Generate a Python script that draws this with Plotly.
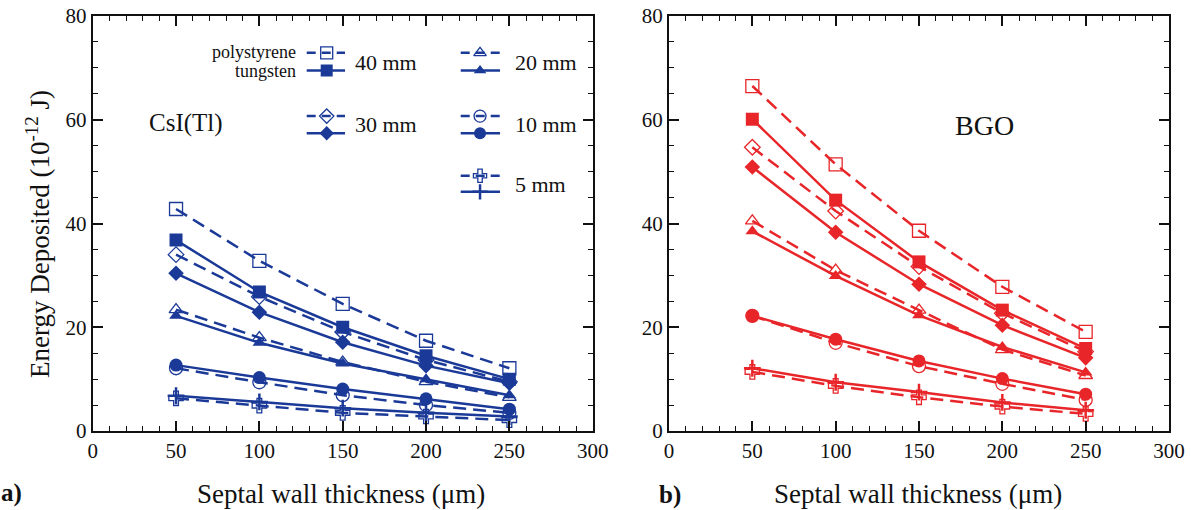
import plotly.graph_objects as go

W, H = 1191, 510

thickness = [50, 100, 150, 200, 250]
sizes = ["40 mm", "30 mm", "20 mm", "10 mm", "5 mm"]

# CsI(Tl) panel
csi_poly = {
    "40 mm": [42.8, 32.8, 24.5, 17.4, 12.1],
    "30 mm": [34.0, 25.9, 19.1, 13.7, 9.5],
    "20 mm": [23.4, 18.0, 13.3, 9.5, 6.5],
    "10 mm": [12.1, 9.4, 6.9, 5.0, 3.5],
    "5 mm": [6.3, 4.9, 3.5, 2.8, 2.1],
}
csi_tung = {
    "40 mm": [36.8, 26.8, 20.0, 14.5, 10.0],
    "30 mm": [30.4, 22.9, 17.1, 12.6, 9.2],
    "20 mm": [22.2, 17.0, 13.0, 10.0, 6.9],
    "10 mm": [12.7, 10.3, 8.1, 6.2, 4.2],
    "5 mm": [6.8, 5.6, 4.4, 3.5, 2.8],
}
# BGO panel
bgo_poly = {
    "40 mm": [66.5, 51.4, 38.6, 27.8, 19.1],
    "30 mm": [54.7, 42.4, 31.7, 22.7, 15.3],
    "20 mm": [40.5, 31.0, 23.3, 15.7, 10.7],
    "10 mm": [22.2, 17.0, 12.5, 9.1, 6.0],
    "5 mm": [11.4, 8.7, 6.5, 4.7, 3.3],
}
bgo_tung = {
    "40 mm": [60.1, 44.5, 32.6, 23.3, 15.9],
    "30 mm": [50.9, 38.3, 28.3, 20.4, 14.1],
    "20 mm": [38.5, 29.9, 22.3, 16.2, 11.3],
    "10 mm": [22.2, 17.7, 13.5, 10.1, 7.1],
    "5 mm": [12.1, 9.4, 7.5, 5.5, 4.0],
}

sym_poly = {"40 mm": "square-open", "30 mm": "diamond-open", "20 mm": "triangle-up-open",
            "10 mm": "circle-open", "5 mm": "cross-open"}
sym_tung = {"40 mm": "square", "30 mm": "diamond", "20 mm": "triangle-up",
            "10 mm": "circle", "5 mm": "cross-thin"}
size_poly = {"40 mm": 13, "30 mm": 12, "20 mm": 12, "10 mm": 13, "5 mm": 12}
size_tung = {"40 mm": 13, "30 mm": 12, "20 mm": 12, "10 mm": 13, "5 mm": 12}

BLUE = "#1b3a98"
RED = "#e8262a"
FONT = "Liberation Serif, Times New Roman, serif"
DASH = "13px,7px"

fig = go.Figure()


def add_series(xa, ya, poly, tung, color):
    for s in sizes:
        fig.add_trace(go.Scatter(
            x=thickness, y=poly[s], xaxis=xa, yaxis=ya, mode="lines+markers",
            line=dict(color=color, width=2.5, dash=DASH),
            marker=dict(symbol=sym_poly[s], size=size_poly[s], color=color,
                        line=dict(color=color, width=1.3)),
            showlegend=False, hoverinfo="skip"))
        mlw = 2.5 if s == "5 mm" else 0
        fig.add_trace(go.Scatter(
            x=thickness, y=tung[s], xaxis=xa, yaxis=ya, mode="lines+markers",
            line=dict(color=color, width=2.5),
            marker=dict(symbol=sym_tung[s], size=size_tung[s], color=color,
                        line=dict(color=color, width=mlw)),
            showlegend=False, hoverinfo="skip"))


add_series("x", "y", csi_poly, csi_tung, BLUE)
add_series("x2", "y2", bgo_poly, bgo_tung, RED)

# Hand-made legend inside the CsI panel (axis units)
legend_cols = {"40 mm": (128.4, 151.4, 140.4, 4.8), "30 mm": (128.4, 151.4, 140.4, 4.8),
               "20 mm": (220.8, 244.4, 232.4, 8.0), "10 mm": (220.8, 244.4, 232.4, 8.0),
               "5 mm": (220.8, 244.4, 232.4, 8.0)}
legend_rows = {"40 mm": (72.9, 69.5, 71.1), "30 mm": (60.7, 57.4, 59.0),
               "20 mm": (72.9, 69.5, 71.1), "10 mm": (60.7, 57.4, 59.0),
               "5 mm": (49.2, 46.1, 47.6)}
annotations = []
for s in sizes:
    x0, x1, xc, gap = legend_cols[s]
    yd, ys, yt = legend_rows[s]
    fig.add_trace(go.Scatter(x=[x0, x1], y=[yd, yd], mode="lines",
                             line=dict(color=BLUE, width=2.5, dash="9px,6px"),
                             showlegend=False, hoverinfo="skip"))
    fig.add_trace(go.Scatter(x=[x0, x1], y=[ys, ys], mode="lines",
                             line=dict(color=BLUE, width=2.5),
                             showlegend=False, hoverinfo="skip"))
    fig.add_trace(go.Scatter(x=[xc], y=[yd], mode="markers",
                             marker=dict(symbol=sym_poly[s], size=size_poly[s] - 1,
                                         color=BLUE, line=dict(color=BLUE, width=1.3)),
                             showlegend=False, hoverinfo="skip"))
    mlw = 2.5 if s == "5 mm" else 0
    fig.add_trace(go.Scatter(x=[xc], y=[ys], mode="markers",
                             marker=dict(symbol=sym_tung[s], size=size_tung[s] - 1,
                                         color=BLUE, line=dict(color=BLUE, width=mlw)),
                             showlegend=False, hoverinfo="skip"))
    annotations.append(dict(x=x1 + gap, y=yt, xref="x", yref="y", text=s, showarrow=False,
                            xanchor="left", yanchor="middle",
                            font=dict(family=FONT, size=22, color="#111")))

annotations += [
    dict(x=123.0, y=73.0, xref="x", yref="y", text="polystyrene", showarrow=False,
         xanchor="right", yanchor="middle", font=dict(family=FONT, size=18, color="#111")),
    dict(x=123.0, y=69.4, xref="x", yref="y", text="tungsten", showarrow=False,
         xanchor="right", yanchor="middle", font=dict(family=FONT, size=18, color="#111")),
    dict(x=186 / W, y=1 - 123 / H, xref="paper", yref="paper", text="CsI(Tl)",
         showarrow=False, xanchor="center", yanchor="middle",
         font=dict(family=FONT, size=25, color="#111")),
    dict(x=984 / W, y=1 - 125 / H, xref="paper", yref="paper", text="BGO",
         showarrow=False, xanchor="center", yanchor="middle",
         font=dict(family=FONT, size=28, color="#111")),
    dict(x=341 / W, y=1 - 494 / H, xref="paper", yref="paper",
         text="Septal wall thickness (μm)", showarrow=False, xanchor="center",
         yanchor="middle", font=dict(family=FONT, size=27, color="#111")),
    dict(x=918 / W, y=1 - 494 / H, xref="paper", yref="paper",
         text="Septal wall thickness (μm)", showarrow=False, xanchor="center",
         yanchor="middle", font=dict(family=FONT, size=27, color="#111")),
    dict(x=38 / W, y=1 - 234 / H, xref="paper", yref="paper",
         text="Energy Deposited (10<sup>-12</sup> J)", showarrow=False, textangle=-90,
         xanchor="center", yanchor="middle", font=dict(family=FONT, size=27, color="#111")),
    dict(x=11 / W, y=1 - 493 / H, xref="paper", yref="paper", text="<b>a)</b>",
         showarrow=False, xanchor="center", yanchor="middle",
         font=dict(family=FONT, size=25, color="#111")),
    dict(x=670 / W, y=1 - 495 / H, xref="paper", yref="paper", text="<b>b)</b>",
         showarrow=False, xanchor="center", yanchor="middle",
         font=dict(family=FONT, size=25, color="#111")),
]

ydom = [1 - 431 / H, 1 - 16 / H]
common_x = dict(range=[0, 300], tickvals=[0, 50, 100, 150, 200, 250, 300],
                ticks="inside", ticklen=10, tickwidth=1.5, tickcolor="#111",
                minor=dict(dtick=10, ticks="inside", ticklen=5, tickwidth=1.3, tickcolor="#111"),
                showline=True, linewidth=2, linecolor="#111", mirror="ticks",
                showgrid=False, zeroline=False, ticklabelstandoff=0, automargin=False,
                tickfont=dict(family=FONT, size=21, color="#111"))
common_y = dict(range=[0, 80], tickvals=[0, 20, 40, 60, 80],
                ticks="inside", ticklen=10, tickwidth=1.5, tickcolor="#111",
                minor=dict(dtick=5, ticks="inside", ticklen=5, tickwidth=1.3, tickcolor="#111"),
                showline=True, linewidth=2, linecolor="#111", mirror="ticks",
                showgrid=False, zeroline=False, domain=ydom, ticklabelstandoff=0,
                automargin=False,
                tickfont=dict(family=FONT, size=21, color="#111"))

fig.update_layout(
    width=W, height=H, margin=dict(l=0, r=0, t=0, b=0, autoexpand=False),
    paper_bgcolor="white", plot_bgcolor="white", showlegend=False,
    xaxis=dict(domain=[92.7 / W, 592.7 / W], anchor="y", **common_x),
    yaxis=dict(anchor="x", **common_y),
    xaxis2=dict(domain=[669 / W, 1169 / W], anchor="y2", **common_x),
    yaxis2=dict(anchor="x2", **common_y),
    annotations=annotations,
)

fig.write_html("out.html")
